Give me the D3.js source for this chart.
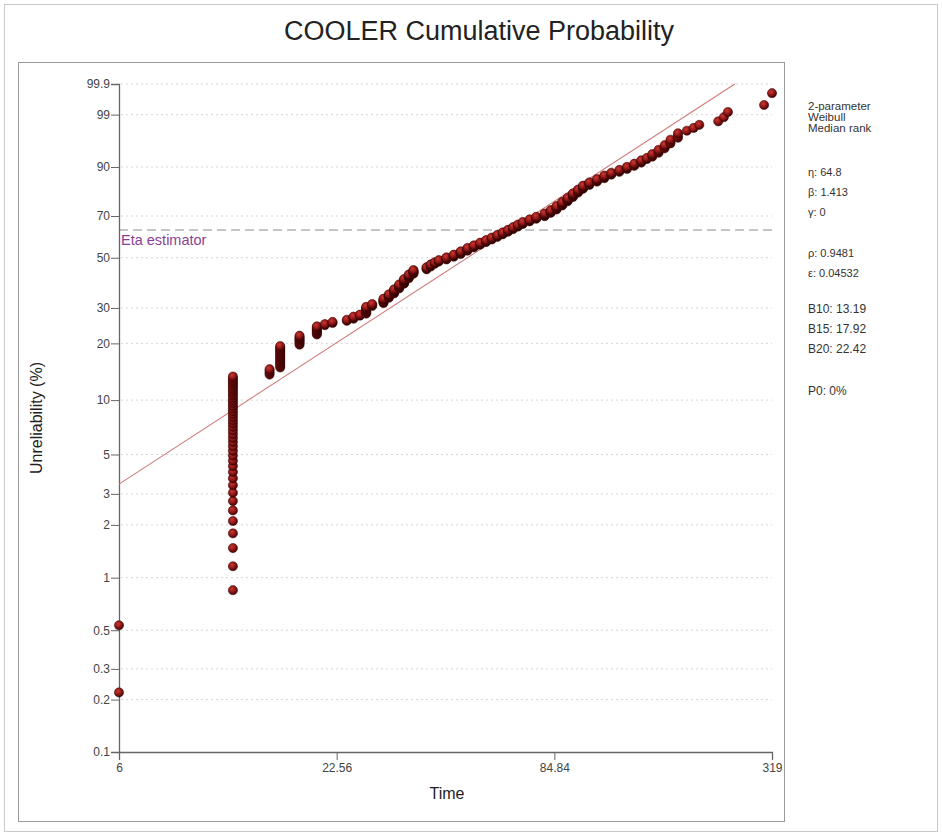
<!DOCTYPE html>
<html>
<head>
<meta charset="utf-8">
<script src="https://cdn.jsdelivr.net/npm/d3@7"></script>
<style>
  body { margin: 0; background: #fff; }
  text { font-family: "Liberation Sans", Arial, sans-serif; }
</style>
</head>
<body>
<div class="plot"></div>
<script>
// failure times (grouped) and how many units failed at each time
var times  = [6, 12, 15, 16, 18, 20, 21, 22, 24, 25, 26, 27, 28, 30, 31, 32, 33, 34, 35, 36,
              39, 40, 41, 42, 44, 46, 48, 50, 52, 54, 56, 58, 60, 62, 64, 66, 68, 70, 73, 76,
              80, 83, 86, 89, 92, 95, 98, 101, 105, 110, 115, 120, 126, 132, 138, 144, 149,
              154, 160, 166, 172, 180, 190, 198, 205, 230, 238, 244, 304, 319];
var counts = [2, 41, 4, 15, 8, 8, 2, 2, 2, 3, 2, 8, 3, 6, 5, 6, 6, 7, 6, 6,
              4, 4, 3, 3, 4, 4, 5, 5, 4, 4, 4, 4, 4, 4, 4, 4, 4, 4, 4, 4,
              5, 5, 6, 6, 6, 6, 5, 5, 4, 4, 4, 3, 3, 3, 3, 3, 2,
              3, 3, 3, 3, 3, 1, 1, 1, 1, 1, 1, 1, 1];

// y ticks (percent) and x ticks
var yTicks = [0.1, 0.2, 0.3, 0.5, 1, 2, 3, 5, 10, 20, 30, 50, 70, 90, 99, 99.9];
var xTicks = [6, 22.56, 84.84, 319];

// fitted parameters shown in the side panel
var eta = 64.8, beta = 1.413;
var panelHead = ["2-parameter", "Weibull", "Median rank"];
var panelFit  = ["η: 64.8", "β: 1.413", "γ: 0"];
var panelGof  = ["ρ: 0.9481", "ε: 0.04532"];
var panelB    = ["B10: 13.19", "B15: 17.92", "B20: 22.42"];

var W = 942, H = 836;
var pl = 119, pr = 772, pt = 84, pb = 752;

var svg = d3.select(".plot").append("svg")
    .attr("width", W)
    .attr("height", H);

// weibull probability transform
function wb(F) { return Math.log(-Math.log(1 - F)); }

var x = d3.scaleLog().domain([6, 319]).range([pl, pr]);
var y = d3.scaleLinear().domain([wb(0.001), wb(0.999)]).range([pb, pt]);

// frames
svg.append("rect").attr("x", 4.5).attr("y", 4.5).attr("width", 933).attr("height", 827)
    .attr("fill", "none").attr("stroke", "#c8c8c8");
svg.append("rect").attr("x", 18.5).attr("y", 62.5).attr("width", 766).attr("height", 759)
    .attr("fill", "none").attr("stroke", "#9a9a9a");

// title
svg.append("text").attr("x", 479).attr("y", 40).attr("text-anchor", "middle")
    .attr("font-size", 27).attr("fill", "#222")
    .text("COOLER Cumulative Probability");

// grid
svg.append("g").selectAll("line")
    .data(yTicks.slice(1))
  .enter().append("line")
    .attr("x1", pl + 2).attr("x2", pr)
    .attr("y1", function(d) { return y(wb(d / 100)); })
    .attr("y2", function(d) { return y(wb(d / 100)); })
    .attr("stroke", "#d6d6d6").attr("stroke-dasharray", "2,3");

// eta estimator
svg.append("line")
    .attr("x1", pl).attr("x2", pr)
    .attr("y1", y(0)).attr("y2", y(0))
    .attr("stroke", "#8c8c8c").attr("stroke-width", 1.1).attr("stroke-dasharray", "9,5");
svg.append("text").attr("x", pl + 2).attr("y", y(0) + 15)
    .attr("font-size", 14.5).attr("fill", "#8a3f96").text("Eta estimator");

// axes
var yAxis = d3.axisLeft(y)
    .tickValues(yTicks.map(function(p) { return wb(p / 100); }))
    .tickFormat(function(d, i) { return yTicks[i]; })
    .tickSizeOuter(0).tickSize(8);
var gy = svg.append("g").attr("transform", "translate(" + pl + ",0)").call(yAxis);

var xAxis = d3.axisBottom(x).tickValues(xTicks)
    .tickFormat(function(d) { return d; })
    .tickSizeOuter(0).tickSize(8);
var gx = svg.append("g").attr("transform", "translate(0," + pb + ")").call(xAxis);

[gx, gy].forEach(function(g) {
  g.select(".domain").attr("stroke", "#666").attr("stroke-width", 1.3);
  g.selectAll(".tick line").attr("stroke", "#666");
  g.selectAll(".tick text").attr("font-size", 12).attr("fill", "#444")
    .attr("font-family", "Liberation Sans, Arial, sans-serif");
});
gy.selectAll(".tick text").attr("x", -9);
gx.selectAll(".tick text").attr("y", 11);

// axis titles
svg.append("text").attr("x", 447).attr("y", 799).attr("text-anchor", "middle")
    .attr("font-size", 16).attr("fill", "#222").text("Time");
svg.append("text").attr("transform", "translate(42,418) rotate(-90)")
    .attr("text-anchor", "middle").attr("font-size", 16).attr("fill", "#222")
    .text("Unreliability (%)");

// fit line
var tEnd = eta * Math.exp(wb(0.999) / beta);
var fitLine = d3.line()
    .x(function(t) { return x(t); })
    .y(function(t) { return y(beta * Math.log(t / eta)); });
svg.append("path").datum([6, tEnd])
    .attr("d", fitLine).attr("fill", "none")
    .attr("stroke", "#cf7b7b").attr("stroke-width", 1.1);

// points with median ranks
var n = d3.sum(counts);
var pts = [];
var rank = 0;
times.forEach(function(t, k) {
  for (var j = 0; j < counts[k]; j++) {
    rank++;
    pts.push({ t: t, F: (rank - 0.3) / (n + 0.4) });
  }
});

var grad = svg.append("defs").append("radialGradient").attr("id", "ball")
    .attr("cx", "40%").attr("cy", "35%").attr("r", "65%");
grad.append("stop").attr("offset", "0%").attr("stop-color", "#c93a30");
grad.append("stop").attr("offset", "55%").attr("stop-color", "#931717");
grad.append("stop").attr("offset", "100%").attr("stop-color", "#400404");

svg.append("g").selectAll("circle")
    .data(pts)
  .enter().append("circle")
    .attr("cx", function(d) { return x(d.t); })
    .attr("cy", function(d) { return y(wb(d.F)); })
    .attr("r", 4.6)
    .attr("fill", "url(#ball)")
    .attr("stroke", "#300202").attr("stroke-width", 0.5);

// side panel
var panel = svg.append("g").attr("fill", "#333");
panelHead.forEach(function(s, i) {
  panel.append("text").attr("x", 808).attr("y", 110 + i * 11).attr("font-size", 11.5).text(s);
});
panelFit.forEach(function(s, i) {
  panel.append("text").attr("x", 808).attr("y", 176 + i * 20)
    .attr("font-family", "Liberation Serif, Times New Roman, serif").attr("font-size", 11).text(s);
});
panelGof.forEach(function(s, i) {
  panel.append("text").attr("x", 808).attr("y", 257 + i * 20)
    .attr("font-family", "Liberation Serif, Times New Roman, serif").attr("font-size", 11).text(s);
});
panelB.forEach(function(s, i) {
  panel.append("text").attr("x", 808).attr("y", 313 + i * 20).attr("font-size", 12).text(s);
});
panel.append("text").attr("x", 808).attr("y", 395).attr("font-size", 12).text("P0: 0%");
</script>
</body>
</html>
